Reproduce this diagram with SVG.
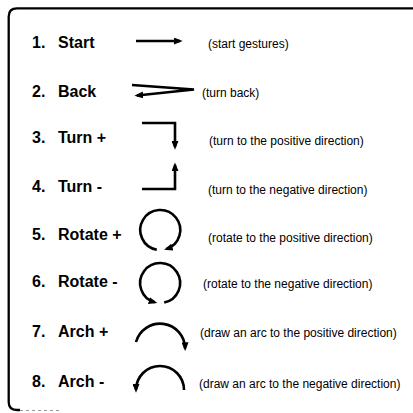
<svg xmlns="http://www.w3.org/2000/svg" width="413" height="413" viewBox="0 0 413 413">
<style>
.lbl{font-family:"Liberation Sans",Arial,sans-serif;font-size:16px;font-weight:bold;fill:#000}
.desc{font-family:"Liberation Sans",Arial,sans-serif;font-size:12px;fill:#000}
.g{fill:none;stroke:#000;stroke-width:2.6;marker-end:url(#ah)}
</style>
<defs>
<marker id="ah" viewBox="0 0 10 8" refX="7" refY="4" markerWidth="9" markerHeight="7" markerUnits="userSpaceOnUse" orient="auto">
<path d="M0,0 L10,4 L0,8 z" fill="#000"/>
</marker>
</defs>
<rect width="413" height="413" fill="#fff"/>
<g id="frame">
<path d="M413,8.3 H17 Q8.7,8.3 8.7,16.5 V402 Q8.7,410 17,410 H20" fill="none" stroke="#000" stroke-width="2.3"/>
<path d="M20,410.5 H60" stroke="#999" stroke-width="1.2" stroke-dasharray="3,3" fill="none"/>
</g>
<g id="row1"><text class="lbl" x="32" y="48">1.</text><text class="lbl" x="58" y="48">Start</text><text class="desc" x="208" y="48">(start gestures)</text></g>
<g id="row2"><text class="lbl" x="32" y="97">2.</text><text class="lbl" x="58" y="97">Back</text><text class="desc" x="202" y="97">(turn back)</text></g>
<g id="row3"><text class="lbl" x="32" y="143">3.</text><text class="lbl" x="58" y="143">Turn +</text><text class="desc" x="209" y="145">(turn to the positive direction)</text></g>
<g id="row4"><text class="lbl" x="32" y="192">4.</text><text class="lbl" x="58" y="192">Turn -</text><text class="desc" x="208" y="194">(turn to the negative direction)</text></g>
<g id="row5"><text class="lbl" x="32" y="240">5.</text><text class="lbl" x="58" y="240">Rotate +</text><text class="desc" x="208" y="242">(rotate to the positive direction)</text></g>
<g id="row6"><text class="lbl" x="32" y="287">6.</text><text class="lbl" x="58" y="287">Rotate -</text><text class="desc" x="203" y="288">(rotate to the negative direction)</text></g>
<g id="row7"><text class="lbl" x="32" y="337">7.</text><text class="lbl" x="58" y="337">Arch +</text><text class="desc" x="200" y="337">(draw an arc to the positive direction)</text></g>
<g id="row8"><text class="lbl" x="32" y="387">8.</text><text class="lbl" x="58" y="387">Arch -</text><text class="desc" x="199" y="388">(draw an arc to the negative direction)</text></g>
<g id="gestures">
<path class="g" d="M136,41 H180"/>
<path class="g" d="M132,85 L194,89.5 L137,95.5"/>
<path class="g" d="M142,123 H175 V147"/>
<path class="g" d="M142,189 H175 V165"/>
<path class="g" d="M156.8,249.7 A20,20 0 1 1 166.5,249"/>
<path class="g" d="M164.2,302.6 A20,20 0 1 0 154.8,302.3"/>
<path class="g" d="M136,342 A25,25 0 0 1 185.1,348.5"/>
<path class="g" d="M184,390 A24,24 0 0 0 136,390"/>
</g>
</svg>
